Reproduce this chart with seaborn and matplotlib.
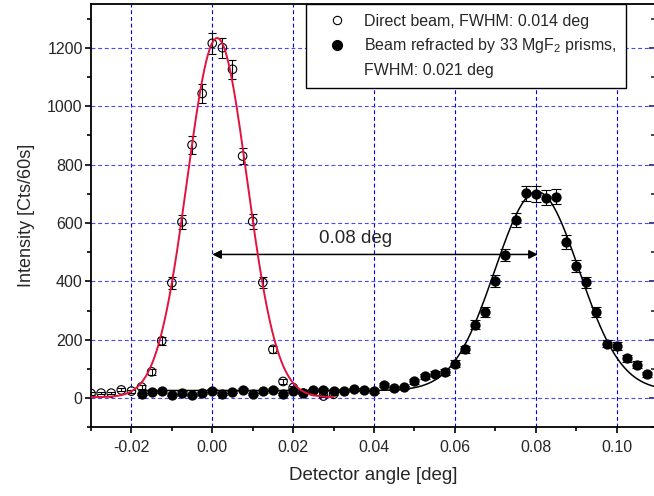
import numpy as np
import seaborn as sns
import matplotlib
matplotlib.use("Agg")
import matplotlib.pyplot as plt
from matplotlib.lines import Line2D
from matplotlib.ticker import MultipleLocator, FormatStrFormatter

# direct beam (open circles), counts per 60 s
direct_angle = [-0.030, -0.0275, -0.025, -0.0225, -0.020, -0.0175, -0.015, -0.0125,
                -0.010, -0.0075, -0.005, -0.0025, 0.000, 0.0025, 0.005, 0.0075,
                0.010, 0.0125, 0.015, 0.0175, 0.020, 0.0225, 0.025, 0.0275, 0.030]
direct_counts = [16, 17, 17, 28, 24, 38, 90, 196, 395, 603, 867, 1043, 1215, 1200,
                 1126, 829, 605, 396, 167, 57, 36, 17, 23, 7, 13]

# beam refracted by the prism stack (filled circles)
refr_angle = [-0.0175, -0.015, -0.0125, -0.010, -0.0075, -0.005, -0.0025, 0.000,
              0.0025, 0.005, 0.0075, 0.010, 0.0125, 0.015, 0.0175, 0.020, 0.0225,
              0.025, 0.0275, 0.030, 0.0325, 0.035, 0.0375, 0.040, 0.0425, 0.045,
              0.0475, 0.050, 0.0525, 0.055, 0.0575, 0.060, 0.0625, 0.065, 0.0675,
              0.070, 0.0725, 0.075, 0.0775, 0.080, 0.0825, 0.085, 0.0875, 0.090,
              0.0925, 0.095, 0.0975, 0.100, 0.1025, 0.105, 0.1075]
refr_counts = [13, 21, 23, 9, 19, 9, 17, 26, 13, 21, 29, 15, 24, 28, 13, 25, 18,
               27, 29, 26, 26, 30, 28, 24, 45, 33, 37, 57, 74, 84, 89, 118, 167,
               251, 295, 400, 490, 609, 701, 699, 687, 690, 535, 453, 396, 294,
               187, 179, 137, 115, 81]

# gaussian fit parameters (offset, amplitude, centre, sigma)
direct_fit = (3, 1230, 0.0012, 0.0074)
refr_fit = (26, 681, 0.0803, 0.0104)

direct_label = "Direct beam, FWHM: 0.014 deg"
refr_label = r"Beam refracted by 33 MgF$_\mathregular{2}$ prisms,"
refr_label2 = "FWHM: 0.021 deg"


def gauss(x, p):
    y0, a, xc, s = p
    return y0 + a * np.exp(-0.5 * ((x - xc) / s) ** 2)


sns.set_theme(style="ticks")
plt.rcParams["font.family"] = ["Liberation Sans", "DejaVu Sans"]
plt.rcParams["axes.unicode_minus"] = False

fig = plt.figure(figsize=(6.54, 4.96), dpi=100)
ax = fig.add_axes([0.1391, 0.1385, 0.8625, 0.8536])

# error bars: poisson statistics of the counts
ax.errorbar(direct_angle, direct_counts, yerr=np.sqrt(direct_counts), fmt="none",
            ecolor="black", elinewidth=0.8, capsize=3, capthick=0.8, zorder=3)
ax.errorbar(refr_angle, refr_counts, yerr=np.sqrt(refr_counts), fmt="none",
            ecolor="black", elinewidth=0.8, capsize=3.3, capthick=0.8, zorder=3)

sns.scatterplot(x=refr_angle, y=refr_counts, ax=ax, marker="o", s=55,
                color="black", edgecolor="black", linewidth=0, zorder=4)
sns.scatterplot(x=direct_angle, y=direct_counts, ax=ax, marker="o", s=38,
                facecolor="none", edgecolor="black", linewidth=0.8, zorder=4)

x1 = np.linspace(-0.03, 0.03, 400)
x2 = np.linspace(-0.0175, 0.11, 600)
sns.lineplot(x=x2, y=gauss(x2, refr_fit), ax=ax, color="black", lw=1.1, zorder=5)
sns.lineplot(x=x1, y=gauss(x1, direct_fit), ax=ax, color="#e2133f", lw=1.4, zorder=6)

# arrow marking the shift of the peak
ax.annotate("", xy=(0.0, 492), xytext=(0.0805, 492),
            arrowprops=dict(arrowstyle="<|-|>", color="black", lw=1.1,
                            mutation_scale=13, shrinkA=0, shrinkB=0))
ax.text(0.0355, 548, "0.08 deg", fontsize=13.5, ha="center", va="center")

ax.set_xlim(-0.03, 0.1095)
ax.set_ylim(-100, 1350)
ax.xaxis.set_major_locator(MultipleLocator(0.02))
ax.xaxis.set_minor_locator(MultipleLocator(0.01))
ax.xaxis.set_major_formatter(FormatStrFormatter("%.2f"))
ax.yaxis.set_major_locator(MultipleLocator(200))
ax.yaxis.set_minor_locator(MultipleLocator(100))
ax.set_yticks([0, 200, 400, 600, 800, 1000, 1200])

ax.xaxis.grid(True, which="major", color="#0000ee", linestyle=(0, (3.5, 2.5)), lw=0.8)
ax.yaxis.grid(True, which="major", color="#4848ff", linestyle=(0, (3.5, 2.5)), lw=0.8)
ax.set_axisbelow(True)

for side in ["left", "bottom", "top", "right"]:
    ax.spines[side].set_linewidth(1.3)
    ax.spines[side].set_color("black")

ax.tick_params(axis="x", which="both", direction="out", bottom=True, top=False,
               labelsize=11.5, pad=5, color="black", width=1.2)
ax.tick_params(axis="y", which="both", direction="out", left=True, right=False,
               labelsize=11.5, pad=1.5, color="black", width=1.2)
ax.tick_params(which="major", length=4.5)
ax.tick_params(which="minor", length=3)

# inward ticks on the right frame
sec = ax.secondary_yaxis("right")
sec.yaxis.set_major_locator(MultipleLocator(200))
sec.yaxis.set_minor_locator(MultipleLocator(100))
sec.tick_params(which="both", direction="in", labelright=False, width=1.2)
sec.tick_params(which="major", length=4.5)
sec.tick_params(which="minor", length=3)
sec.spines["right"].set_linewidth(1.3)

ax.set_xlabel("Detector angle [deg]", fontsize=13.5, labelpad=8)
ax.set_ylabel("Intensity [Cts/60s]", fontsize=13, labelpad=9)

handles = [
    Line2D([], [], marker="o", ls="none", mfc="none", mec="black", ms=6, mew=0.8),
    Line2D([], [], marker="o", ls="none", mfc="black", mec="black", ms=7),
    Line2D([], [], ls="none"),
]
leg = ax.legend(handles, [direct_label, refr_label, refr_label2], loc="upper left",
                bbox_to_anchor=(0.382, 1.0), fontsize=11.5, frameon=True,
                fancybox=False, edgecolor="black", framealpha=1, borderpad=0.6,
                handlelength=2.6, handletextpad=0.4, labelspacing=0.5,
                borderaxespad=0)
leg.get_frame().set_linewidth(1.0)
leg.set_zorder(10)

fig.savefig("out.png", dpi=100)
